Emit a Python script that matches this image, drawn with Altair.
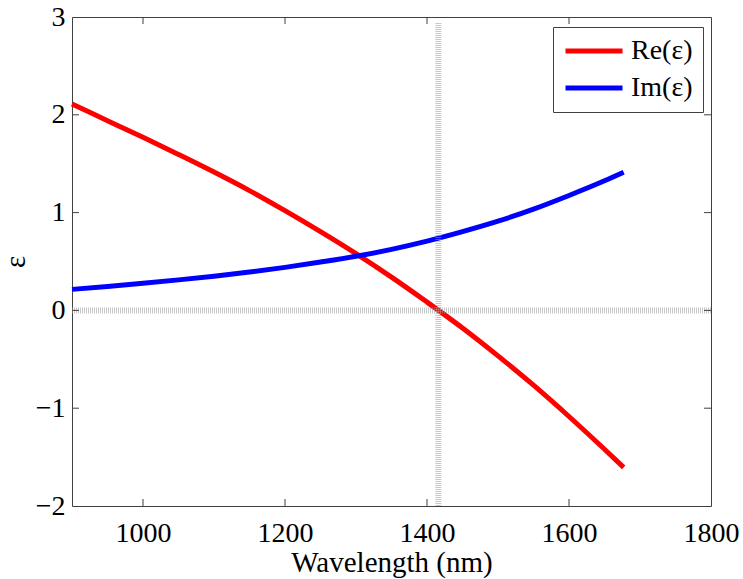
import altair as alt
import pandas as pd

# Permittivity versus wavelength
wavelength = [900, 950, 1000, 1050, 1100, 1150, 1200, 1250, 1300, 1350,
              1400, 1450, 1500, 1550, 1600, 1650, 1677]
re_eps = [2.11, 1.94, 1.77, 1.595, 1.415, 1.225, 1.02, 0.805, 0.58, 0.34,
          0.085, -0.18, -0.465, -0.765, -1.085, -1.42, -1.605]
im_eps = [0.215, 0.245, 0.277, 0.312, 0.35, 0.392, 0.44, 0.494, 0.553, 0.624,
          0.708, 0.805, 0.912, 1.035, 1.175, 1.325, 1.412]

series_names = ["Re(ε)", "Im(ε)"]
series_colors = ["#ff0000", "#0000ff"]

x_tick_values = [1000, 1200, 1400, 1600, 1800]
y_tick_values = [-2, -1, 0, 1, 2, 3]
x_inner_ticks = [1000, 1200, 1400, 1600]
y_inner_ticks = [-1, 0, 1, 2]

# guide lines: epsilon-near-zero wavelength and the zero level
enz_wavelength = 1416
x_min, x_max = 900, 1800
y_min, y_max = -2, 3

W, H = 639, 489
FONT = "Liberation Serif"
FRAME = "#404040"

rows = []
for w, r, i in zip(wavelength, re_eps, im_eps):
    rows.append({"wavelength": w, "eps": r, "series": series_names[0]})
    rows.append({"wavelength": w, "eps": i, "series": series_names[1]})
df = pd.DataFrame(rows)

x_scale = alt.Scale(domain=[x_min, x_max], nice=False, zero=False)
y_scale = alt.Scale(domain=[y_min, y_max], nice=False, zero=False)

axis_style = dict(
    grid=False, domain=False, ticks=False,
    labelFont=FONT, labelFontSize=28, labelColor="black",
    labelFlush=False, labelOverlap=False,
    titleFont=FONT, titleFontSize=29, titleFontWeight="normal",
    titleColor="black",
)

# the same axis definition is shared by every layer so that they merge cleanly
x_axis = alt.Axis(values=x_tick_values, format="d", title="Wavelength (nm)",
                  labelPadding=13, titlePadding=1, **axis_style)
y_axis = alt.Axis(values=y_tick_values, format="d", title="ε",
                  labelPadding=7, titleX=-57, titleY=H / 2, titleAngle=-90,
                  titleAlign="center", titleBaseline="middle", **axis_style)


def xenc(field):
    return alt.X(field, scale=x_scale, axis=x_axis)


def yenc(field):
    return alt.Y(field, scale=y_scale, axis=y_axis)


color = alt.Color(
    "series:N",
    scale=alt.Scale(domain=series_names, range=series_colors),
    legend=alt.Legend(
        title=None, orient="none", legendX=481, legendY=10,
        symbolType="stroke", symbolSize=3249, symbolStrokeWidth=5,
        clipHeight=28, labelOffset=6, labelLimit=300, padding=10,
        rowPadding=9, strokeColor=FRAME, fillColor="white",
        labelFont=FONT, labelFontSize=28, labelColor="black",
    ),
)

base = alt.Chart(df)


def curve(name):
    return base.transform_filter(alt.datum.series == name).mark_line(
        strokeWidth=5, interpolate="monotone", strokeCap="butt"
    ).encode(
        x=xenc("wavelength:Q"),
        y=yenc("eps:Q"),
        color=color,
    )


re_line = curve(series_names[0])
im_line = curve(series_names[1])

guide_style = dict(color="#9a9a9a", strokeWidth=6, strokeDash=[1, 1], opacity=0.55)

zero_line = alt.Chart(pd.DataFrame({"x": [x_min], "x2": [x_max], "y": [0]})).mark_rule(
    strokeCap="butt", **guide_style
).encode(x=xenc("x:Q"), x2="x2:Q", y=yenc("y:Q"))

enz_line = alt.Chart(pd.DataFrame({"x": [enz_wavelength], "y": [y_min], "y2": [2.94]})).mark_rule(
    **guide_style
).encode(x=xenc("x:Q"), y=yenc("y:Q"), y2="y2:Q")

# inward-facing ticks on all four sides
xt = pd.DataFrame({"t": x_inner_ticks})
yt = pd.DataFrame({"t": y_inner_ticks})
tick_style = dict(color=FRAME, strokeWidth=1)
x_ticks_bottom = alt.Chart(xt).mark_rule(**tick_style).encode(
    x=xenc("t:Q"), y=alt.value(H), y2=alt.value(H - 7))
x_ticks_top = alt.Chart(xt).mark_rule(**tick_style).encode(
    x=xenc("t:Q"), y=alt.value(0), y2=alt.value(7))
y_ticks_left = alt.Chart(yt).mark_rule(**tick_style).encode(
    y=yenc("t:Q"), x=alt.value(0), x2=alt.value(7))
y_ticks_right = alt.Chart(yt).mark_rule(**tick_style).encode(
    y=yenc("t:Q"), x=alt.value(W), x2=alt.value(W - 7))

chart = alt.layer(
    re_line, im_line, zero_line, enz_line,
    x_ticks_bottom, x_ticks_top, y_ticks_left, y_ticks_right,
).properties(
    width=W, height=H,
    autosize=alt.AutoSizeParams(type="none"),
    padding={"left": 72, "top": 17, "right": 32, "bottom": 73},
    background="white",
).configure(
    font=FONT
).configure_view(
    stroke=FRAME, strokeWidth=1
)

chart.save("out.html", embed_options={"renderer": "svg", "actions": False})
